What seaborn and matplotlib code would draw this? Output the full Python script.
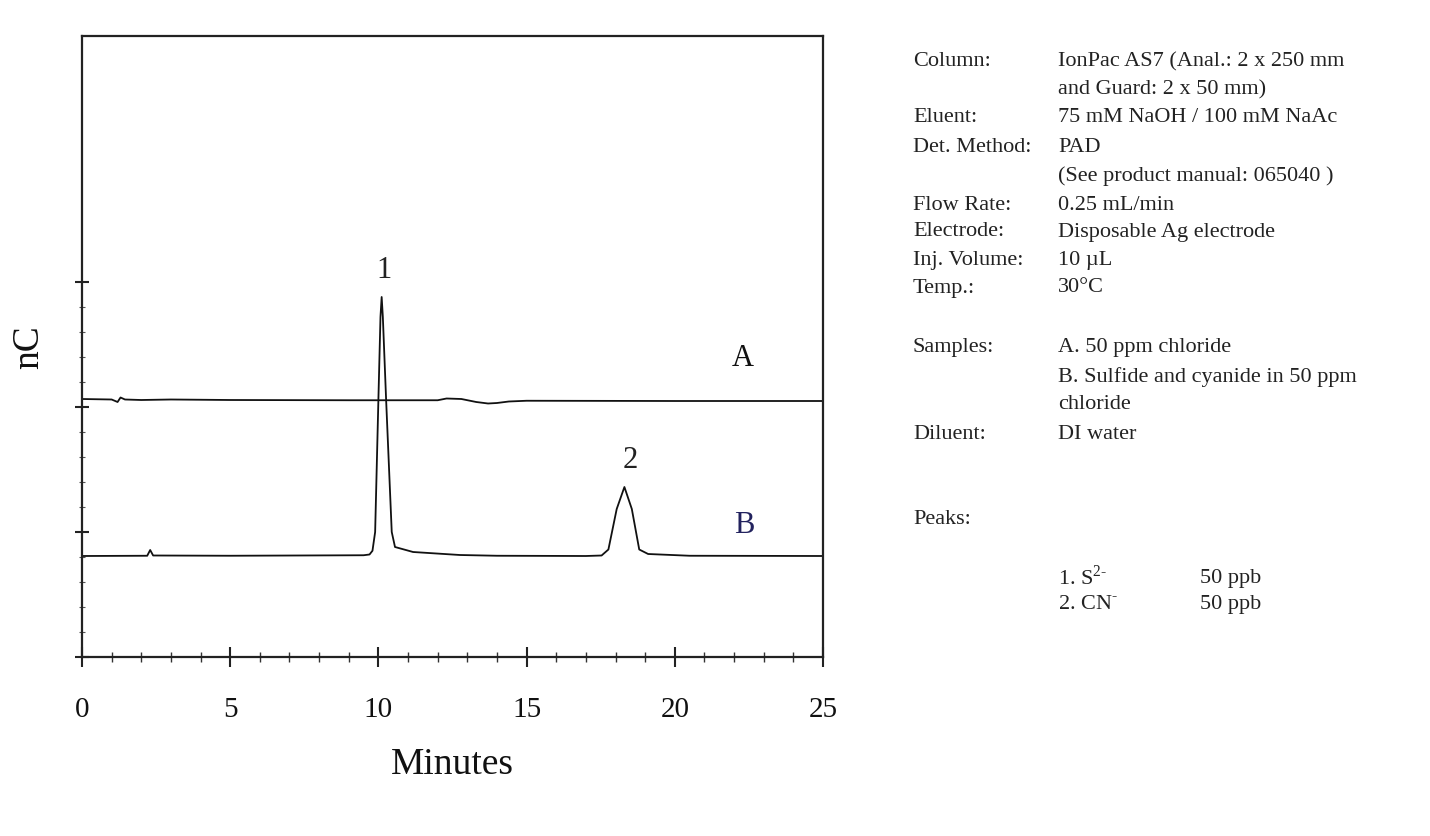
import numpy as np
import pandas as pd
import matplotlib
matplotlib.use("Agg")
import matplotlib.pyplot as plt
from matplotlib.ticker import MultipleLocator, FixedLocator
import seaborn as sns

# Chromatogram traces (retention time in minutes, detector response in nC, offset per trace)
time_a = [0.0, 1.0, 1.2, 1.3, 1.45, 2.0, 3.0, 5.0, 9.0, 12.0, 12.3, 12.8, 13.3, 13.7, 14.0, 14.4, 15.0, 20.0, 25.0]
signal_a = [10.32, 10.3, 10.2, 10.38, 10.3, 10.28, 10.3, 10.28, 10.27, 10.27, 10.34, 10.32, 10.2, 10.14, 10.16, 10.22, 10.25, 10.24, 10.24]

time_b = [0.0, 2.2, 2.3, 2.4, 5.0, 9.5, 9.7, 9.8, 9.89, 10.0, 10.07, 10.11, 10.15, 10.26, 10.45, 10.56,
          11.17, 12.75, 14.0, 17.0, 17.53, 17.76, 18.04, 18.3, 18.55, 18.8, 19.1, 20.5, 25.0]
signal_b = [4.04, 4.05, 4.28, 4.06, 4.05, 4.07, 4.1, 4.25, 5.0, 10.3, 13.6, 14.4, 13.6, 10.3, 5.0, 4.4,
            4.2, 4.08, 4.05, 4.04, 4.06, 4.3, 5.92, 6.8, 5.92, 4.3, 4.12, 4.05, 4.04]

sample_names = ["A", "B"]
sample_colors = ["#111111", "#22225e"]

# Peak labels: (label, retention time, height of label)
peak_labels = ["1", "2"]
peak_times = [10.2, 18.5]
peak_label_y = [15.5, 7.9]

x_ticks = [0, 5, 10, 15, 20, 25]

# Method conditions panel
cond_labels = ["Column:", "", "Eluent:", "Det. Method:", "", "Flow Rate:", "Electrode:",
               "Inj. Volume:", "Temp.:", "Samples:", "", "", "Diluent:", "Peaks:"]
cond_values = ["IonPac AS7 (Anal.: 2 x 250 mm", "and Guard: 2 x 50 mm)",
               "75 mM NaOH / 100 mM NaAc", "PAD", "(See product manual: 065040 )",
               "0.25 mL/min", "Disposable Ag electrode", "10 µL", "30°C",
               "A. 50 ppm chloride", "B. Sulfide and cyanide in 50 ppm", "chloride",
               "DI water", ""]
cond_rows_px = [62, 90, 118, 147, 176, 205, 232, 260, 288, 348, 377, 405, 435, 520]

peak_names = [r"1. S$^{\mathrm{2\text{-}}}$", r"2. CN$^{\mathrm{\text{-}}}$"]
peak_conc = ["50 ppb", "50 ppb"]
peak_rows_px = [578, 605]

sns.set_theme(style="white")
plt.rcParams["font.family"] = ["Liberation Serif", "DejaVu Serif"]
plt.rcParams["mathtext.fontset"] = "custom"
plt.rcParams["mathtext.rm"] = "Liberation Serif"

df = pd.concat([
    pd.DataFrame({"Minutes": time_a, "nC": signal_a, "Sample": "A"}),
    pd.DataFrame({"Minutes": time_b, "nC": signal_b, "Sample": "B"}),
])

W, H = 1430, 837
fig = plt.figure(figsize=(W / 100, H / 100), dpi=100)
ax = fig.add_axes([82 / W, 1 - 658 / H, (823 - 82) / W, (658 - 37) / H])

sns.lineplot(data=df, x="Minutes", y="nC", hue="Sample", units="Sample", estimator=None,
             palette=["#111111", "#111111"], linewidth=1.3, legend=False, ax=ax, sort=False)

ax.set_xlim(0, 25)
ax.set_ylim(0, 24.84)
ax.set_xticks(x_ticks)
ax.set_xticklabels([str(v) for v in x_ticks], fontsize=21)
ax.xaxis.set_minor_locator(MultipleLocator(1))
ax.set_yticks([0, 5, 10, 15])
ax.set_yticklabels([])
ax.yaxis.set_minor_locator(FixedLocator([v for v in range(1, 16) if v % 5]))
ax.tick_params(axis="x", which="major", direction="inout", length=14, width=1.5,
               color="#222222", pad=21, labelcolor="#111111")
ax.tick_params(axis="x", which="minor", direction="inout", length=7, width=1.0, color="#333333")
ax.tick_params(axis="y", which="major", direction="inout", length=10, width=1.5, color="#222222")
ax.tick_params(axis="y", which="minor", direction="inout", length=5, width=0.8, color="#555555")
ax.tick_params(bottom=True, left=True, which="both")

for side in ["left", "bottom", "top", "right"]:
    ax.spines[side].set_visible(True)
    ax.spines[side].set_color("#222222")
    ax.spines[side].set_linewidth(1.6)

ax.set_xlabel("Minutes", fontsize=27, labelpad=18, color="#111111")
ax.set_ylabel("nC", fontsize=27, labelpad=17, color="#111111")

for lab, t, y in zip(peak_labels, peak_times, peak_label_y):
    ax.text(t, y, lab, fontsize=22, ha="center", va="center", color="#222222")

ax.text(22.3, 12.0, sample_names[0], fontsize=22, ha="center", va="center", color=sample_colors[0])
ax.text(22.35, 5.3, sample_names[1], fontsize=22, ha="center", va="center", color=sample_colors[1])

# Conditions text block
x_lab, x_val, x_conc = 913 / W, 1058 / W, 1200 / W
fs = 16
for lab, val, py in zip(cond_labels, cond_values, cond_rows_px):
    y = 1 - py / H
    if lab:
        fig.text(x_lab, y, lab, fontsize=fs, ha="left", va="center", color="#222222")
    if val:
        fig.text(x_val, y, val, fontsize=fs, ha="left", va="center", color="#222222")
for name, conc, py in zip(peak_names, peak_conc, peak_rows_px):
    y = 1 - py / H
    fig.text(x_val, y, name, fontsize=fs, ha="left", va="center", color="#222222")
    fig.text(x_conc, y, conc, fontsize=fs, ha="left", va="center", color="#222222")

fig.savefig("out.png", dpi=100, facecolor="white")
